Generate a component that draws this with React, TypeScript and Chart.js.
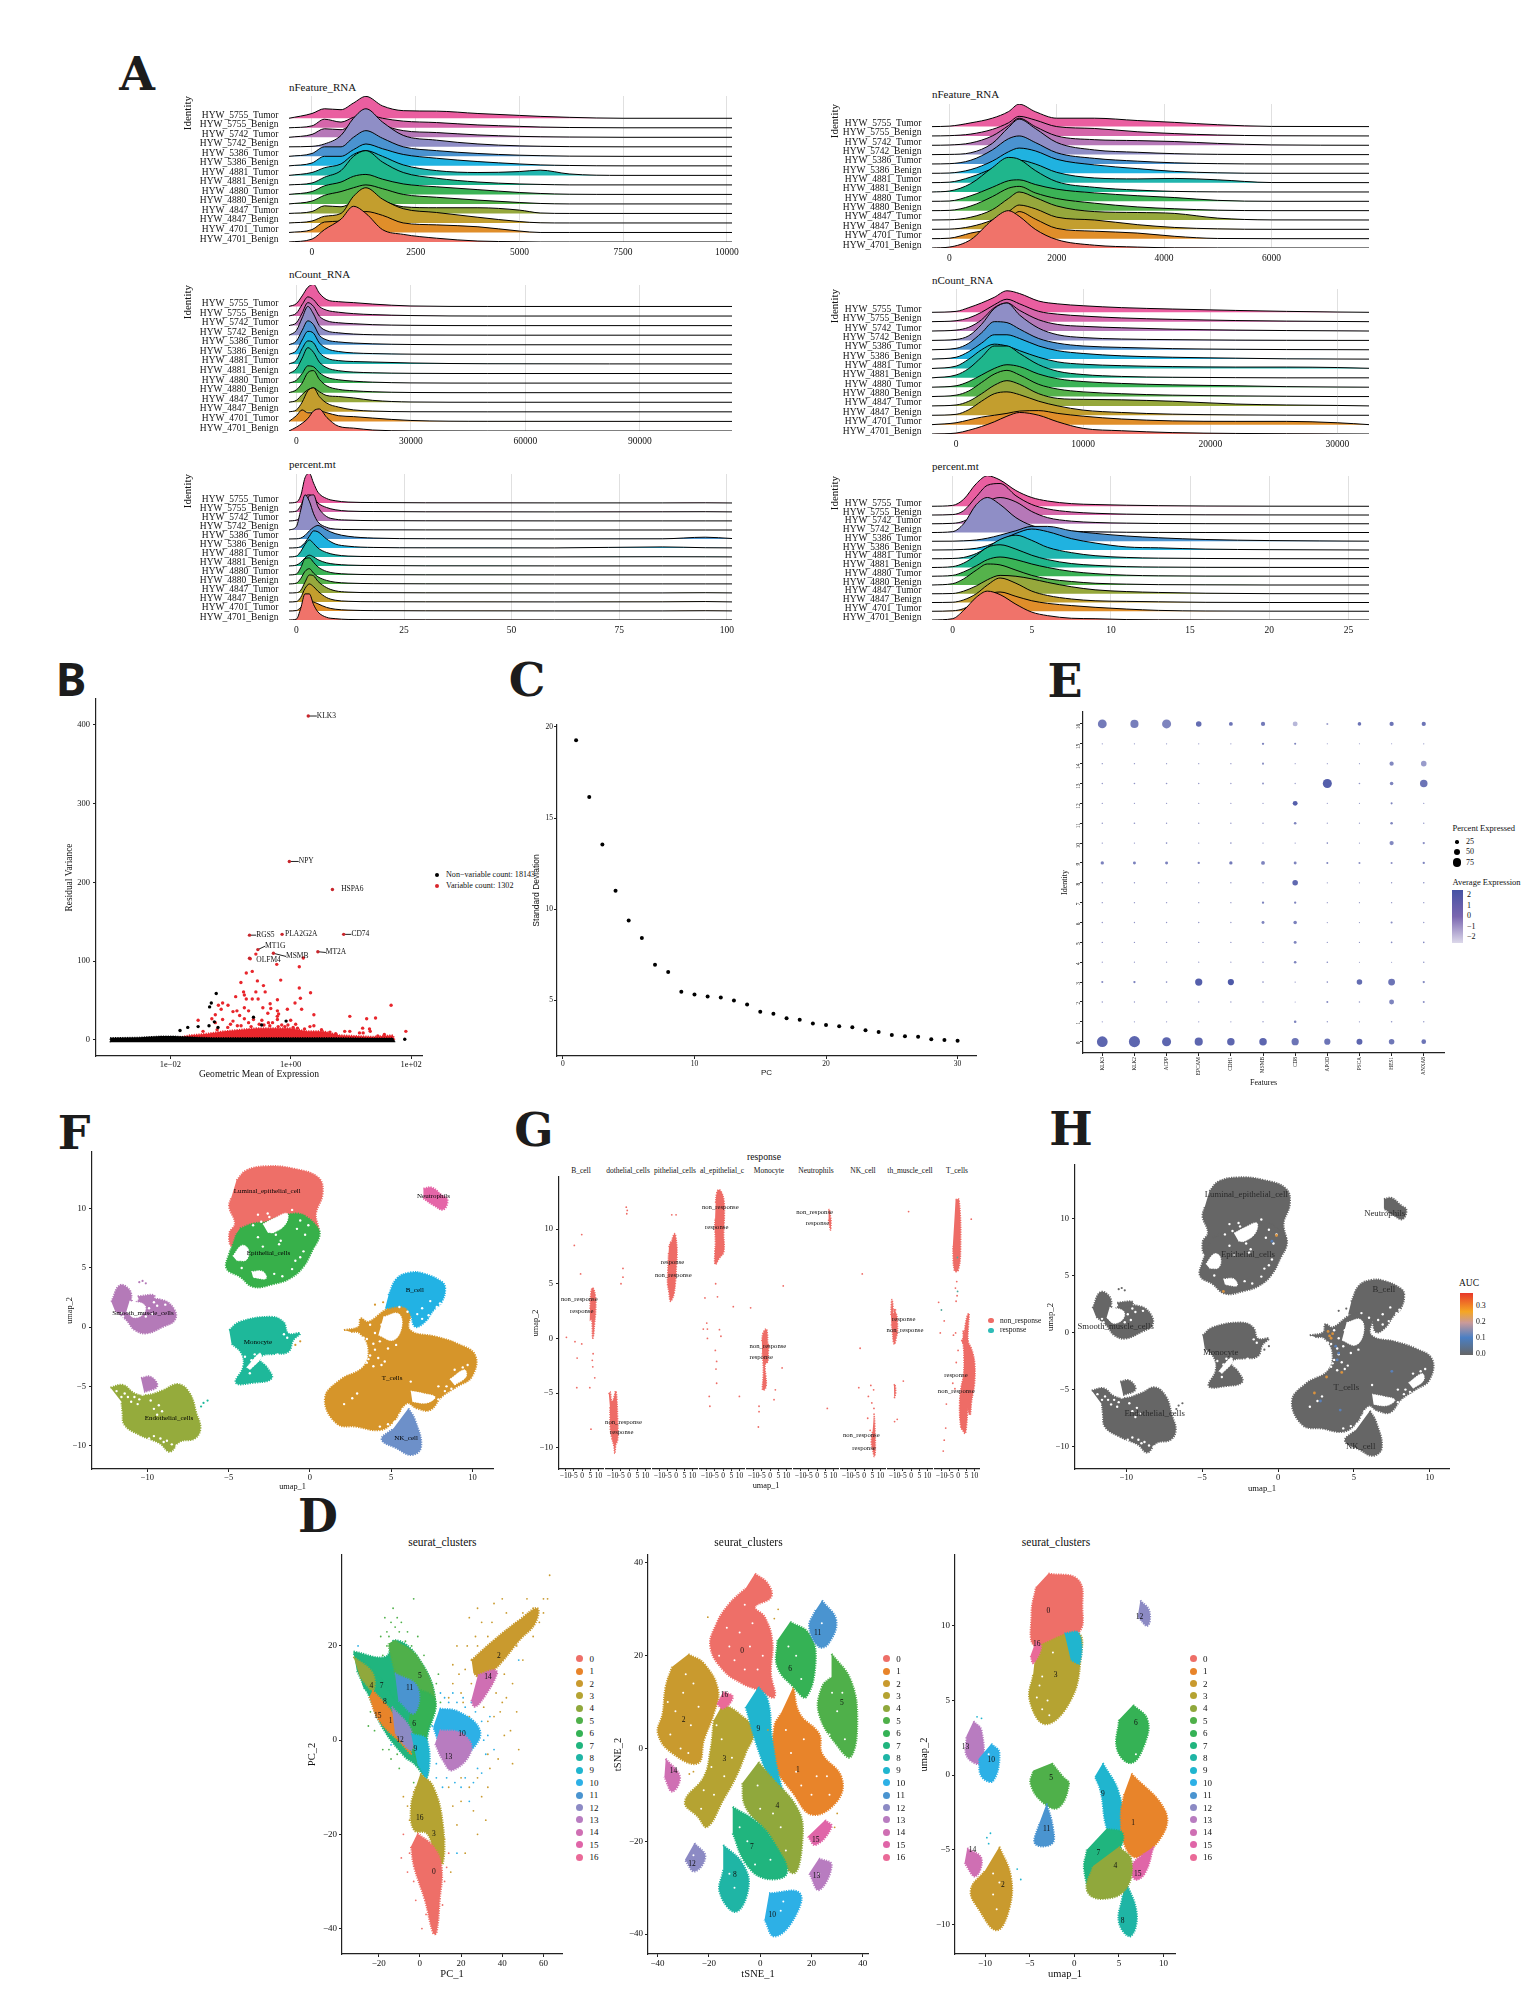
import { useEffect, useRef } from 'react'
import { Chart, registerables } from 'chart.js'

const serif = '"Liberation Serif", serif'

// ---------- panel A: ridge heights, in row units, top row first ----------
const sampleNames = ['HYW_5755_Tumor', 'HYW_5755_Benign', 'HYW_5742_Tumor', 'HYW_5742_Benign', 'HYW_5386_Tumor', 'HYW_5386_Benign', 'HYW_4881_Tumor', 'HYW_4881_Benign', 'HYW_4880_Tumor', 'HYW_4880_Benign', 'HYW_4847_Tumor', 'HYW_4847_Benign', 'HYW_4701_Tumor', 'HYW_4701_Benign']
const sampleColors = ['#ea5ea0', '#d566aa', '#b678b8', '#8f8ec6', '#4a93d0', '#20b2e0', '#20b5ae', '#1fb68c', '#3bb356', '#55b24b', '#96a83c', '#c39e2e', '#e08e2a', '#f0736a']

const featureKnotsA = [-554, 0, 300, 700, 1000, 1300, 1700, 2200, 3000, 4000, 5000, 5500, 6200, 7500, 10125]
const featureRowsA = [
  [0, .5, 1.0, .9, 1.6, 2.3, 1.3, .8, .75, .5, .3, .2, .1, 0, 0],
  [0, .2, .9, .6, 1.1, 1.4, 1.0, .7, .55, .3, .15, .08, .03, 0, 0],
  [0, .3, .9, .8, 1.5, 2.2, 1.3, .7, .5, .25, .1, .06, .03, 0, 0],
  [0, .05, .3, 1.2, 3, 4, 2.6, 1.2, .7, .3, .1, .06, .02, 0, 0],
  [0, .3, 1.0, 1.0, 2, 2.7, 1.9, 1, .6, .3, .12, .07, .02, 0, 0],
  [0, .3, 1.0, 1.0, 1.7, 2.3, 1.8, 1.2, .8, .45, .2, .1, .04, 0, 0],
  [0, .3, .8, 1.2, 2.2, 2.6, 2, 1.1, .5, .3, .4, .55, .15, 0, 0],
  [0, .2, .8, 1.5, 3, 3.6, 2.4, 1.3, .7, .3, .1, .05, 0, 0, 0],
  [0, .3, .9, 1.3, 1.9, 2.1, 1.6, 1.1, .8, .5, .2, .1, .02, 0, 0],
  [0, .3, .9, 1.3, 1.7, 2, 1.6, 1.0, .7, .4, .15, .05, 0, 0, 0],
  [0, .2, .8, .7, 1.2, 1.6, 1.3, .7, .6, .6, .35, .05, 0, 0, 0],
  [0, .2, .7, 1.0, 2.8, 3.7, 2.5, 1.5, 1.1, .6, .15, .02, 0, 0, 0],
  [0, .3, 1.1, 1.2, 1.8, 2.2, 1.8, 1.0, .8, .6, .15, 0, 0, 0, 0],
  [0, .3, 1.3, 2.4, 3.75, 3, 1.3, .8, .4, .1, .03, 0, 0, 0, 0],
]

const countKnotsA = [-1939, 0, 1500, 3000, 4500, 6000, 8000, 11000, 15000, 20000, 30000, 50000, 114175]
const countRowsA = [
  [0, .3, 1.1, 2.0, 2.3, 1.4, .7, .5, .4, .25, .05, 0, 0],
  [0, .3, 1.2, 2, 1.7, 1.0, .6, .4, .25, .15, .05, 0, 0],
  [0, .3, 1.3, 2.4, 2, 1, .5, .3, .2, .1, .03, 0, 0],
  [0, .5, 1.8, 3, 2.2, 1, .45, .25, .12, .05, .02, 0, 0],
  [0, .4, 1.5, 2.5, 2.1, 1, .5, .3, .18, .1, .03, 0, 0],
  [0, .4, 1.5, 2.4, 2.2, 1.2, .6, .3, .15, .08, .02, 0, 0],
  [0, .4, 1.6, 2.4, 2.2, 1.2, .6, .35, .25, .2, .1, .02, 0],
  [0, .5, 1.6, 2.7, 2.2, 1.2, .6, .3, .15, .08, .02, 0, 0],
  [0, .3, 1.0, 1.8, 1.7, 1.1, .6, .35, .2, .1, .02, 0, 0],
  [0, .3, 1, 2.1, 2.3, 1.4, .7, .35, .2, .1, .02, 0, 0],
  [0, .2, .8, 1.3, 1.5, 1.1, .7, .6, .45, .2, .03, 0, 0],
  [0, .2, 1, 2.2, 2.5, 1.6, .9, .5, .2, .08, .01, 0, 0],
  [0, .6, 1.2, .9, .9, 1.1, .9, .6, .5, .35, .1, .01, 0],
  [0, .4, .8, 1.3, 2.1, 2.3, 1.4, .5, .3, .1, .01, 0, 0],
]

const mitoKnotsA = [-1.72, 0, 1, 2, 3, 4, 5, 7, 9, 12, 18, 30, 60, 85, 95, 101.2]
const mitoRowsA = [
  [0, .1, .8, 2.8, 3.3, 2.2, 1.2, .5, .25, .1, .05, .02, .01, .01, .02, 0],
  [0, .1, .7, 1.7, 1.9, 1.6, 1, .5, .25, .1, .05, .02, .01, .02, .03, .01],
  [0, .1, .5, 1.5, 2.8, 2.9, 1.6, .5, .2, .1, .04, .02, .01, .01, .01, .01],
  [0, .4, 2.2, 3.9, 3.2, 1.8, .9, .3, .1, .05, .02, .01, 0, 0, 0, 0],
  [0, .02, .1, .4, .9, 1.3, 1.5, 1.0, .6, .3, .1, .03, .01, .02, .2, .05],
  [0, .03, .15, .6, 1.3, 1.9, 1.8, 1, .45, .2, .06, .02, .01, .12, .03, .01],
  [0, .1, .6, 1.4, 1.9, 1.5, 1, .5, .25, .1, .05, .02, .01, .03, .02, .01],
  [0, .1, .4, .9, 1.2, 1, .7, .35, .2, .1, .05, .02, .01, .01, .01, .01],
  [0, .1, .8, 1.8, 1.9, 1.4, .9, .4, .2, .1, .04, .02, .01, .01, .01, .01],
  [0, .1, .6, 1.4, 1.7, 1.2, .8, .4, .2, .1, .04, .02, .01, .01, .01, .01],
  [0, .03, .3, 1.2, 2, 1.9, 1.3, .6, .25, .1, .04, .02, .01, .01, .03, .01],
  [0, .05, .5, 1.5, 2, 1.7, 1.2, .5, .2, .08, .03, .02, .01, .02, .05, .01],
  [0, .05, .4, .9, 1.1, 1, .8, .4, .2, .1, .04, .02, .01, .01, .03, .01],
  [0, .1, 1.3, 2.9, 2.9, 1.7, .9, .3, .15, .06, .03, .02, .01, .01, .01, .01],
]

const featureKnotsB = [-324, 0, 400, 800, 1100, 1300, 1600, 2000, 2700, 3500, 4200, 5000, 6000, 7819]
const featureRowsB = [
  [0, .05, .4, .9, 1.6, 2.4, 1.6, .9, .9, .65, .45, .2, .02, 0],
  [0, .03, .2, .7, 1.4, 2.1, 1.7, 1, .8, .45, .25, .1, .02, 0],
  [0, .03, .25, 1, 2.1, 2.9, 2, 1, .6, .5, .4, .2, .04, 0],
  [0, .02, .2, 1.2, 2.9, 3.8, 2.8, 1.3, .5, .25, .1, .03, 0, 0],
  [0, .03, .4, 1.5, 2.7, 3, 2.3, 1.2, .6, .3, .12, .03, 0, 0],
  [0, .03, .4, 1.3, 2.3, 2.7, 2.4, 1.5, .9, .5, .2, .05, 0, 0],
  [0, .05, .6, 1.5, 2.2, 2.4, 2, 1.1, .5, .4, .45, .3, .01, 0],
  [0, .1, .9, 2.6, 3.7, 3.5, 2.3, 1.1, .5, .2, .06, .01, 0, 0],
  [0, .03, .6, 1.5, 2.2, 2.3, 1.8, 1.3, .9, .6, .4, .1, 0, 0],
  [0, .03, .5, 1.5, 2.4, 2.6, 1.9, 1.3, .8, .4, .2, .05, 0, 0],
  [0, .02, .3, 1.1, 2.3, 3, 2.4, 1.5, .9, .8, .7, .2, .01, 0],
  [0, .02, .3, 1, 1.9, 2.6, 2.2, 1.3, 1.0, .5, .2, .05, 0, 0],
  [0, .05, .6, 1.1, 2, 2.9, 2.1, 1.1, .8, .6, .25, .02, 0, 0],
  [0, .1, .9, 3, 4, 3.4, 2, .9, .3, .1, .02, .01, 0, 0],
]

const countKnotsB = [-1896, 0, 1000, 2000, 3000, 4000, 5000, 6500, 8000, 10000, 13000, 17000, 22000, 26000, 30000, 32480]
const countRowsB = [
  [0, .1, .5, 1, 1.6, 2.3, 2, 1.2, .9, .7, .5, .35, .2, .1, .03, 0],
  [0, .1, .4, 1, 1.8, 2.4, 1.9, 1.1, .8, .6, .4, .25, .12, .06, .02, 0],
  [0, .1, .4, 1.2, 2.5, 3, 2.2, 1.2, .7, .5, .35, .2, .1, .05, .02, 0],
  [0, .1, .5, 1.7, 3.4, 4, 2.7, 1.3, .6, .3, .15, .08, .03, .01, 0, 0],
  [0, .15, .7, 1.8, 3, 2.9, 2.2, 1.2, .7, .4, .25, .12, .05, .02, .01, 0],
  [0, .2, .8, 1.7, 2.6, 2.6, 2.2, 1.4, .9, .6, .35, .2, .1, .03, .01, 0],
  [0, .25, 1, 2, 2.6, 2.4, 1.9, 1.2, .7, .45, .3, .2, .15, .15, .1, .02],
  [0, .3, 1, 2.2, 3.4, 3.4, 2.6, 1.4, .7, .35, .15, .06, .02, 0, 0, 0],
  [0, .15, .6, 1.3, 2, 2.4, 2.2, 1.4, .9, .6, .4, .25, .15, .06, .02, 0],
  [0, .15, .6, 1.5, 2.4, 2.8, 2.3, 1.3, .8, .5, .3, .15, .07, .03, 0, 0],
  [0, .1, .5, 1.3, 2.2, 2.7, 2.3, 1.3, .8, .7, .65, .5, .2, .1, .05, 0],
  [0, .1, .6, 1.5, 2.3, 2.5, 2.2, 1.5, 1, .55, .3, .12, .04, .01, 0, 0],
  [0, .2, .5, .8, 1, 1.2, 1.45, 1.5, 1.2, .9, .6, .4, .35, .35, .2, 0],
  [0, .1, .4, .8, 1.3, 1.9, 2.3, 2, 1.3, .6, .35, .15, .06, .03, .01, 0],
]

const mitoKnotsB = [-1.3, 0, .7, 1.5, 2.2, 3, 4, 5, 6, 7.5, 9, 11, 13, 16, 20, 26.3]
const mitoRowsB = [
  [0, .1, .8, 2.6, 3.5, 3, 1.8, 1, .6, .3, .2, .12, .07, .03, .01, 0],
  [0, .05, .5, 2.1, 3.4, 3.6, 2.2, 1.2, .7, .35, .2, .1, .05, .02, .01, 0],
  [0, .05, .3, 1.2, 2.5, 3, 2.5, 1.4, .7, .3, .15, .07, .03, .01, 0, 0],
  [0, .1, 1, 3.2, 4, 3.2, 1.7, .8, .4, .15, .08, .03, .01, 0, 0, 0],
  [0, .01, .05, .15, .35, .7, 1.2, 1.7, 1.7, 1.2, .9, .6, .4, .2, .08, .01],
  [0, .02, .07, .2, .5, 1.1, 1.9, 2.4, 2.1, 1.3, .8, .35, .25, .1, .04, 0],
  [0, .03, .15, .6, 1.3, 2.2, 2.7, 2.1, 1.3, .7, .35, .15, .07, .03, .01, 0],
  [0, .1, .5, 1.4, 2.3, 2.6, 2.1, 1.4, .9, .45, .25, .1, .05, .02, .01, 0],
  [0, .1, .5, 1.2, 1.9, 2.2, 1.9, 1.4, 1, .55, .3, .12, .05, .02, .01, 0],
  [0, .15, .7, 1.7, 2.4, 2.3, 1.7, 1.1, .7, .4, .2, .1, .04, .02, 0, 0],
  [0, .03, .3, .9, 1.6, 2.1, 2, 1.7, 1.3, .8, .45, .25, .15, .06, .01, 0],
  [0, .03, .3, 1, 2, 2.8, 2.2, 1.3, .8, .4, .2, .13, .08, .02, 0, 0],
  [0, .05, .3, 1.1, 1.9, 2.2, 1.7, 1.2, .9, .65, .45, .25, .1, .03, .01, 0],
  [0, .15, 1.1, 2.6, 3.3, 2.9, 1.8, .9, .5, .2, .15, .05, .02, .01, 0, 0],
]

// ---------- panel B ----------
const redScatter = [[.264, 109], [.213, 103], [.587, 96], [1.39, 93], [1.62, 104], [.183, 85], [.23, 87], [.149, 73], [.28, 75], [.683, 76], [.353, 69], [1.39, 66], [.377, 61], [2.14, 60], [.165, 61], [.264, 61], [.122, 55], [.17, 57], [.183, 52], [.23, 52], [.288, 52], [.602, 51], [1.45, 53], [.074, 47], [.063, 44], [.091, 44], [.456, 46], [1.18, 47], [46.6, 44], [.07, 39], [.17, 41], [.345, 41], [.467, 40], [.881, 39], [1.52, 39], [.11, 36], [.128, 37], [.2, 37], [.602, 37], [.417, 34], [.056, 32], [.142, 31], [2.43, 32], [9.6, 30], [18.3, 27], [25.7, 28], [.049, 27], [.029, 25], [.074, 26], [.11, 24], [.17, 27], [.241, 26], [.332, 25], [.602, 26], [1, 25], [.056, 22], [.2, 22], [.427, 22], [.71, 19], [1.21, 20], [15.7, 15], [2.09, 17], [2.43, 18], [3.25, 13], [20.4, 14], [7.9, 11], [9.6, 11], [82, 11], [13.9, 9], [.6, 30], [.63, 33], [.1, 20], [.13, 18], [.3, 20], [.5, 22], [.8, 17], [1.1, 16], [16, 9], [21, 11], [.09, 16], [.15, 18], [.22, 17], [.36, 19], [.45, 18], [.62, 17], [.9, 19], [1.3, 15], [1.7, 14], [.06, 13], [.035, 11], [4.5, 10], [5.6, 8], [28, 5], [36, 7]]
const blackScatter = [[.058, 59], [.048, 47], [.045, 42], [.029, 17], [.044, 18], [.241, 29], [.84, 24], [.054, 23], [.062, 16], [.0195, 16], [.0145, 12], [78.6, 1], [.33, 19]]
const redBand = [[.0115, 0], [.0115, 2], [.0217, 6], [.041, 8], [.077, 11], [.1455, 13], [.274, 15], [.517, 15], [.975, 15], [1.84, 11], [3.47, 11], [6.5, 6], [12.3, 5], [23.2, 4], [50, 6], [53, 0]]
const blackBand = [[.001, -3], [.001, 3], [.003, 3.5], [.0069, 5], [.0115, 5], [.02, 4], [.05, 3], [.2, 3], [1, 3], [5, 3], [20, 2.5], [50, 2.5], [55, -3]]
const geneNames = ['KLK3', 'NPY', 'HSPA6', 'CD74', 'PLA2G2A', 'RGS5', 'MT1G', 'MSMB', 'MT2A', 'OLFM4']
const genePoints = [[1.96, 411], [.95, 226.5], [4.94, 191], [7.6, 134], [.72, 134], [.207, 133], [.285, 114.7], [.517, 110], [2.83, 112], [.207, 103.7]]
const geneLabelAt = [[2.72, 411], [1.36, 226.5], [6.9, 191], [10.2, 134], [.806, 134], [.268, 133], [.376, 119], [.837, 106], [3.84, 111], [.268, 101]]

// ---------- panel C ----------
const pcStdDev = [19.26, 16.15, 13.55, 11.02, 9.39, 8.42, 6.96, 6.57, 5.48, 5.33, 5.22, 5.16, 5.0, 4.78, 4.38, 4.27, 4.03, 3.94, 3.74, 3.66, 3.59, 3.54, 3.37, 3.28, 3.11, 3.04, 3.02, 2.88, 2.84, 2.79]

// ---------- panel E, identities from 16 down to 0 ----------
const dotFeatures = ['KLK3', 'KLK2', 'ACPP', 'EPCAM', 'CDH1', 'MSMB', 'CD8', 'APOD', 'PSCA', 'HES1', 'ANXA8']
const percentExpressed = [
  [60, 55, 62, 35, 22, 25, 30, 8, 20, 25, 25],
  [2, 2, 2, 2, 2, 10, 8, 1, 1, 1, 2],
  [3, 3, 2, 2, 3, 8, 1, 1, 1, 25, 35],
  [3, 5, 5, 3, 3, 6, 2, 62, 5, 20, 50],
  [3, 3, 3, 3, 3, 3, 30, 2, 2, 8, 3],
  [3, 5, 3, 3, 3, 3, 12, 2, 2, 12, 3],
  [3, 3, 5, 3, 5, 3, 2, 5, 2, 25, 10],
  [18, 15, 15, 10, 18, 22, 15, 8, 8, 8, 10],
  [3, 3, 3, 3, 3, 3, 35, 2, 2, 3, 5],
  [3, 3, 3, 3, 3, 10, 10, 2, 2, 3, 3],
  [3, 3, 3, 3, 3, 15, 20, 2, 2, 8, 3],
  [3, 3, 3, 3, 3, 3, 15, 2, 2, 5, 5],
  [2, 2, 2, 2, 2, 4, 12, 5, 1, 1, 4],
  [8, 10, 5, 48, 40, 5, 3, 5, 35, 45, 10],
  [3, 3, 3, 3, 3, 3, 1, 8, 4, 30, 8],
  [2, 2, 2, 2, 2, 3, 12, 3, 2, 4, 3],
  [75, 78, 62, 55, 50, 50, 48, 40, 38, 35, 28],
]
const averageExpression = [
  [.8, .7, .5, 1.2, 1, .8, -1, -.3, 1, 1, 1],
  [0, 0, 0, 0, 0, .5, .5, 0, 0, 0, 0],
  [0, 0, 0, 0, 0, .3, 0, 0, 0, .4, -.2],
  [0, 0, 0, 0, 0, .3, 0, 1.6, 0, .5, 1],
  [0, 0, 0, 0, 0, 0, 1.6, 0, 0, .5, 0],
  [0, 0, 0, 0, 0, 0, .5, 0, 0, .5, 0],
  [0, 0, .3, 0, 0, 0, 0, .5, 0, .4, .2],
  [.6, .6, .6, .5, .8, .5, .5, .5, .2, .2, .5],
  [0, 0, 0, 0, 0, 0, 1.3, 0, 0, 0, 0],
  [0, 0, 0, 0, 0, .5, .5, 0, 0, 0, 0],
  [0, 0, 0, 0, 0, .5, .6, 0, 0, .3, 0],
  [0, 0, 0, 0, 0, 0, .5, 0, 0, .3, .3],
  [0, 0, 0, 0, 0, 0, .5, .3, 0, 0, 0],
  [.3, .6, .3, 1.6, 1.8, .2, 0, .2, 1.2, 1, .4],
  [0, 0, 0, 0, 0, 0, 0, .3, 0, .5, .2],
  [0, 0, 0, 0, 0, 0, .5, 0, 0, 0, 0],
  [1.4, 1.4, 1.4, 1.4, 1.4, 1.4, 1, 1, 1.4, .9, 1],
]

// ---------- panels F, G, H: cell type outlines in umap coordinates ----------
const luminalShape = [[-4.52, 12.4], [-3.9, 13.25], [-2.67, 13.59], [-1.03, 13.39], [.51, 12.63], [.78, 11.28], [.37, 9.59], [.41, 7.9], [-2.26, 7.34], [-4.72, 6.78], [-4.97, 7.9], [-4.62, 8.75], [-4.97, 10.15], [-4.83, 11]]
const epithelialShape = [[-4.31, 8.33], [-3.49, 8.75], [-2.67, 8.89], [-1.85, 9.31], [-.82, 9.59], [-.21, 9.31], [.51, 8.33], [.57, 7.62], [.21, 6.64], [-.41, 5.09], [-1.23, 4.11], [-2.26, 3.63], [-3.49, 3.4], [-4.31, 4.25], [-5.13, 4.95], [-4.97, 6.22], [-4.76, 6.92], [-4.52, 7.9]]
const neutrophilShape = [[6.98, 11.7], [7.49, 11.79], [8.11, 11.14], [8.46, 10.77], [8.21, 9.93], [7.6, 10.3], [6.98, 10.86]]
const bCellShape = [[4.83, 2.7], [5.34, 4.11], [6.16, 4.61], [6.98, 4.53], [8.11, 3.83], [8.32, 3.26], [8.11, 2.14], [7.6, 1.43], [7.08, .45], [6.47, .03], [6.16, 1.15], [5.75, 1.72], [4.62, 1.58]]
const tCellShape = [[2.09, -.25], [2.98, .03], [3.12, .73], [3.59, .45], [4.62, 1.43], [5.75, 2.14], [6.67, 2.28], [6.26, 1.15], [6.16, -.25], [7.8, -.82], [9.03, -1.38], [10.16, -2.36], [9.96, -4.19], [9.03, -5.04], [8.11, -5.88], [7.39, -7], [6.57, -6.86], [5.95, -6.44], [5.13, -7.99], [4.31, -8.69], [2.87, -8.41], [1.64, -8.13], [.92, -6.02], [1.85, -4.47], [3.29, -3.35], [3.59, -1.8], [3.08, -.53], [2.46, -.39]]
const nkShape = [[6.06, -6.86], [6.47, -7.85], [6.84, -10.1], [6.26, -10.8], [5.34, -10.24], [4.41, -9.48], [5.13, -8.55]]
const monocyteShape = [[-4.97, -.25], [-4.31, .45], [-2.46, .87], [-1.64, .45], [-1.33, -.53], [-.62, -.53], [-1.03, -1.1], [-1.33, -2.08], [-2.26, -2.28], [-2.87, -2.36], [-3.08, -2.78], [-2.67, -3.35], [-2.36, -4.33], [-3.49, -4.7], [-4.56, -4.7], [-4.11, -3.35], [-4.21, -2.22], [-4.83, -1.38]]
const smoothShape = [[-12.22, 2.14], [-11.7, 3.54], [-11.09, 3.12], [-10.88, 2], [-10.47, 2.28], [-9.03, 2.28], [-8.32, 1.43], [-8.32, .59], [-9.03, .03], [-10.06, -.53], [-10.78, -.25], [-11.29, .59], [-12.01, 1.43]]
const smoothTopShape = [[-10.6, 2.6], [-9.6, 2.7], [-9.7, 2.3], [-10.5, 2.2]]
const smoothLowShape = [[-10.4, -4.3], [-9.8, -4.2], [-9.4, -5], [-10.2, -5.5]]
const endothelialShape = [[-12.28, -5.09], [-11.5, -4.89], [-10.78, -5.6], [-10.06, -5.74], [-9.03, -5.32], [-8.11, -4.81], [-7.39, -5.6], [-6.98, -7.29], [-6.74, -8.55], [-7.08, -9.4], [-8.01, -9.68], [-8.62, -10.52], [-9.24, -9.82], [-10.47, -9.11], [-11.4, -8.27], [-11.54, -7.14], [-11.6, -6.3]]
const tEpithelialShape = [[-1.5, 12.7], [.6, 12.7], [1.5, 8.1], [0, 6.2], [-2.2, 6.2], [-3.2, 8.4]]

const cellColors = ['#ee6f68', '#37b04a', '#d6952a', '#22b2e4', '#6d90c9', '#e566a8', '#1eb89a', '#b47ab8', '#b47ab8', '#b47ab8', '#95ab3c']
const cellShapes = [luminalShape, epithelialShape, tCellShape, bCellShape, nkShape, neutrophilShape, monocyteShape, smoothShape, smoothTopShape, smoothLowShape, endothelialShape]

const holeShapes = [
  [[-4.75, 6], [-4.2, 6.9], [-3.8, 6.6], [-3.9, 5.7], [-4.5, 5.6]],
  [[-2.9, 8.7], [-2.2, 9.2], [-1.4, 9.6], [-1.5, 8.7], [-2.2, 8], [-2.6, 8]],
  [[-3.6, 4.7], [-2.9, 4.7], [-2.7, 4.1], [-3.5, 4.2]],
  [[4.52, .87], [5.44, 1.15], [5.65, .03], [5.13, -1.1], [4.21, -.68]],
  [[6.2, -5.4], [7, -5.6], [7.7, -5.9], [7.2, -6.4], [6.3, -6.3]],
  [[8.6, -4.4], [9.5, -3.6], [9.6, -4.2], [8.9, -4.9]],
  [[-3.9, -3.4], [-3.1, -2.2], [-3, -2.6], [-3.7, -3.6]],
  [[-11.1, 2.2], [-10.2, 1.9], [-10.2, 1.2], [-10.8, .8], [-11.3, 1.3]],
]
const holeDots = [[3.5, -3], [3.9, -3.3], [4.4, -3.2], [3.7, -2.4], [4, -1.9], [3.5, -1], [4, -.5], [3.7, .2], [4.4, .2], [6.6, -.3], [2.1, -6.5], [2.6, -6], [2.9, -5.6], [5, -8.5], [4.8, -8.2], [5.2, -8], [7.9, -5], [8.3, -5.4], [8.7, -5.2], [6.2, -4.6], [-11.4, -5.6], [-10.8, -5.9], [-11, -6.3], [-11.2, -5.9], [-10.5, -6.1], [-9.6, -6.9], [-9.3, -6.6], [-9.1, -7.1], [-9.4, -7.4], [-9.6, -9.2], [-9.2, -9.4], [-8.8, -9.6], [-8.5, -9.9], [-9, -9.7], [-.9, 5.6], [-1.1, 4.9], [-.6, 5.9], [-2.1, 7.8], [-1.8, 7.3], [-.1, 8.6], [-.6, 9], [-3.2, 9.5], [-2.6, 9.6], [-1.4, -.9], [-1.6, -.6], [-.9, -1.2], [-3.6, -2.8], [-3.4, -2.3], [6.9, 1.6], [6.6, 1.1], [7.3, 1], [7.8, 1.7], [7.4, 2.2], [-9.9, 1.6], [-9.4, 1.8], [-9.7, 1.1], [-11.6, 1.2],
  [3.6, -2.7], [4.2, -2.6], [4.6, -2.9], [3.9, -1.4], [4.3, -1.2], [3.3, -.9], [4.8, -1.8], [5.3, -1.5], [4.3, -8.4], [5.5, -7.4], [5.7, -6.9], [7.9, -6.1], [8.4, -5], [9.4, -3.4], [9.7, -3.2], [8.9, -3.6], [-3.5, 8.6], [-3, 8.9], [-2.5, 9.3], [-1.1, 9.9], [-.8, 8.3], [-.3, 7.8], [-1.9, 7], [-2.9, 6.8], [-3.2, 7.6], [-4.2, 5], [-3.2, 4.4], [-2.2, 4.5], [-1.7, 4.3], [-.4, 6.4], [-11.9, -5.4], [-11.6, -5.9], [-10.3, -5.7], [-10.6, -6.5], [-9.8, -6.2], [-9.9, -9.4], [-8.2, -10], [-2, -2.3], [-3.7, -3.9], [-4, -2.5], [5.5, 1.7], [6, 1.3], [6.9, .7], [7.7, 1.2], [8, 2], [-11.5, .9], [-10.9, 2.4], [-9.6, 2.1], [-10.1, .9], [-8.9, 1.9]]
const looseDots = [[-10.5, 3.8], [-10.3, 3.9], [-10.1, 3.7], [-6.55, -6.4], [-6.3, -6.2], [-6.7, -6.7], [4, 1.9], [4.5, 2.1], [-.6, -1.2], [-.9, -1.5]]

const cellLabels = ['Luminal_epithelial_cell', 'Epithelial_cells', 'Neutrophils', 'B_cell', 'Smooth_muscle_cells', 'Monocyte', 'T_cells', 'Endothelial_cells', 'NK_cell']
const cellLabelAtF = [[-2.63, 11.48], [-2.55, 6.27], [7.6, 11.08], [6.45, 3.15], [-10.27, 1.21], [-3.2, -1.24], [5.05, -4.28], [-8.67, -7.65], [5.91, -9.34]]
const cellLabelAtH = [[-2.09, 12.06], [-1.98, 6.8], [7.03, 10.45], [6.97, 3.74], [-10.7, .53], [-3.78, -1.81], [4.5, -4.88], [-8.13, -7.15], [5.45, -10]]
const aucWarmDots = [[3.4, -.3], [3.5, -.5], [3.6, -.1], [3.3, .1], [4.2, -3.5], [3.2, -3.9], [2.4, -5.3], [-.1, 8.5], [-3.6, 3.6]]
const aucCoolDots = [[3.8, -1.2], [4, -1.8], [3.9, -2.4], [7.5, -3.4], [4.1, -6.8], [-.4, 8], [2.8, -6]]

// panel G facets
const facetTitles = ['B_cell', 'dothelial_cells', 'pithelial_cells', 'al_epithelial_c', 'Monocyte', 'Neutrophils', 'NK_cell', 'th_muscle_cell', 'T_cells']
const facetLefts = [559, 606, 653, 700, 747, 794, 841, 888, 935]
const facetShapes = [[bCellShape], [endothelialShape], [epithelialShape], [luminalShape], [monocyteShape], [neutrophilShape], [nkShape], [smoothShape, smoothTopShape, smoothLowShape], [tCellShape, tEpithelialShape]]
const facetStray = [
  [[-4.7, 8.5], [-.2, 9.5], [-.9, 5.9], [-9.5, .1], [-4.3, -.3], [-.2, -.5], [-3, -1.8], [6.7, -1.4], [6.2, -2], [6.5, -2.6], [7.7, -3.6], [-3.2, -4.5], [4.7, -4.5], [5.4, -8.3]],
  [[-1.7, 12], [-1.1, 11.7], [-1.4, 11.4], [-3.7, 6.4], [-3.7, 5.6], [-4.9, 5]],
  [[-2.6, 11.3], [0, 11.3]],
  [[-4.5, 5], [-11, 3.7], [-3.4, 3.8], [6.2, 2.9], [-9.9, 1.4], [-12, .85], [-9.5, .85], [-2.2, .8], [-9.5, 0], [-1.3, .2], [-4.7, -1.1], [-3.9, -2.1], [-4.3, -2.8], [-3.9, -4.1], [-8.4, -5.3], [9.9, -5.3], [-8, -6.2]],
  [[-11.8, 2.8], [8, 4.8], [7.3, -2.7], [3.2, -4.7], [2.4, -5.6], [-6.7, -6.2], [-6.7, -6.7], [-7.1, -8.1]],
  [[6.2, -6.4]],
  [[-1.1, 5.9], [-2.4, -.9], [-3.2, -4.5], [4.1, -4.3], [5.8, -4.7], [2.6, -5.3], [4.7, -5.9], [6, -6.4], [2.2, -7.3], [3.7, -8.4]],
  [[-1.5, 11.6], [-4.7, -3.9], [-8.4, -7.4], [-10, -7.6]],
  [[-11.8, 3.3], [-8.4, 1.6], [-10.8, .5], [-2.8, .3], [-1.5, .5], [0, -1.1], [-1.1, -2.2], [-3.2, -4.1], [-1.9, -4.6], [-7.1, -6], [-7.5, -8.2], [-8.4, -9.3], [-9, -10.3], [8, 10.9], [-.8, 5.2], [-1.6, 4.6], [-.6, 3.9], [-1.2, 3.4]],
]
const facetGreen = [[], [], [], [], [], [], [], [], [[-10.1, 2.6], [-.4, 7.4], [-.3, 4.3]]]
const facetLabelText = [['non_response', 'response'], ['non_response', 'response'], ['response', 'non_response'], ['non_response', 'response'], ['non_response', 'response'], ['non_response', 'response'], ['non_response', 'response'], ['response', 'non_response'], ['response', 'non_response']]
const facetLabelAt = [[[-1.7, 3.59], [-.2, 2.5]], [[-3.4, -7.64], [-4.5, -8.55]], [[-2.15, 6.97], [-1.7, 5.78]], [[-1.7, 11.99], [-3.9, 10.17]], [[-1.3, -.7], [-5.4, -1.7]], [[-1.5, 11.54], [.2, 10.53]], [[-1.7, -8.83], [0, -10]], [[-4.5, 1.77], [-3.7, .76]], [[-1.3, -3.35], [-1.1, -4.81]]]

// ---------- panel D ----------
const clusterIds = ['0', '1', '2', '3', '4', '5', '6', '7', '8', '9', '10', '11', '12', '13', '14', '15', '16']
const clusterColors = ['#ee6f68', '#e8842a', '#c99a2e', '#b5a332', '#90a83c', '#4fb04a', '#35b255', '#20b57e', '#1fb5a5', '#20b5cf', '#2db0e6', '#4a94d0', '#8c8ac4', '#b87cc0', '#cf6fb3', '#e065a8', '#ea6a98']

const pcaClusters = [7, 3, 0, 2, 14, 5, 6, 11, 7, 4, 1, 12, 9, 10, 13]
const pcaShapes = [
  [[-32.2, 18.8], [-16.7, 17.7], [-12.1, 21.2], [-1.2, 17.7], [7.4, 8.5], [3.4, 0], [3.4, -7.8], [-2.8, -5], [-7.4, -3.5], [-18.3, 2.8], [-24.5, 9.2], [-30.7, 14.9]],
  [[.3, -7.1], [6.5, -9.9], [11.1, -17.7], [11.1, -26.2], [7.4, -24.1], [3.4, -19.8], [-2.8, -19.1], [-4.3, -14.2], [-1.9, -9.9]],
  [[-1.2, -19.8], [6.5, -22.6], [10.5, -26.9], [9.6, -34], [8, -41], [6.5, -41], [2.5, -34], [-2.8, -26.9], [-4.3, -22.6]],
  [[25.1, 17], [35.9, 21.2], [48.3, 25.5], [57, 28], [56, 24.8], [48.3, 21.2], [40.6, 17], [35.9, 14.9], [29.7, 13.2], [26, 14.2]],
  [[28.2, 13.8], [35.9, 14.9], [37.5, 14.2], [31.3, 9.2], [26.6, 7.1], [25, 8.5]],
  [[-12.1, 21.2], [-1.2, 17.7], [7.4, 8.5], [1.9, 4.95], [-7.4, 8.5], [-13.6, 17], [-15.2, 20.5]],
  [[-2.8, 11.3], [7.4, 8.5], [3.4, 1.4], [.3, -5], [-2.8, -2.8], [-5.9, 2.8]],
  [[-12.1, 14.2], [-1.2, 11.3], [-2.8, 5.7], [-10.5, 8.5]],
  [[-32.2, 18.4], [-19.8, 13.4], [-12.1, 8.5], [-4.3, 1.4], [-9, 0], [-19.8, 7.8], [-27.6, 11.3]],
  [[-32.2, 17.7], [-22.9, 14.2], [-22.9, 10.6], [-29.1, 13.4]],
  [[-22.9, 10.6], [-12.1, 5], [-4.3, -2.8], [-9, -.7], [-19.8, 4.2], [-24.5, 9.2]],
  [[-13.6, 7.1], [-4.3, 2.1], [-4.3, -2.1], [-12.1, 1.4]],
  [[-4.3, 1.4], [3.4, 0], [3.4, -7.8], [-1.2, -5]],
  [[9.6, 6.7], [18.9, 6], [29.1, 2.1], [25, -2.1], [15.8, -4.2], [9.6, -.7], [6.5, 2.8]],
  [[9.6, 2.1], [20.4, 1.4], [25, -2.1], [15.8, -6.4], [11.1, -4.2], [7.4, -.7]],
]
const pcaGoldDots = [[40, 30], [63, 35], [55, 28], [60, 30], [50, 27], [47, 20], [27, 22], [30, 18], [22, 15], [35, 25], [42, 27], [25, 12], [18, 20], [30, 10], [45, 12], [36, 5], [44, 2], [48, -2], [20, -13], [28, -20], [32, -17], [33, -10], [28, -8], [24, -10], [15, -28], [22, -24], [16, 16], [40, 8], [38, -4], [50, 17], [33, 4], [29, 13], [25, 17], [37, 10], [41, 14], [20, 10], [16, 12], [33, -3], [27, 3], [60, 27], [58, 25], [52, 30], [45, 24], [24, 26], [28, 28], [33, 22], [38, 19], [44, 21], [23, 20], [19, 14], [21, 8], [35, 12], [39, 6], [42, 9], [47, 6], [30, 25], [36, 29], [48, 23], [53, 25], [26, 9], [31, 7], [24, 5], [14, 9], [34, -6], [30, -12], [26, -15], [18, -18], [16, -14], [12, -21], [20, -8], [45, -5], [41, 1], [55, 22], [62, 30], [35, 18], [28, 20], [-3, -11], [-6, -14], [-8, -12], [14, -10], [-5, -17], [18, -3]]
const pcaGreenDots = [[-17, 26], [-12, 24], [-15, 22], [-3, 30], [-18, 18], [-13, 28], [-16, 23], [-10, 23], [-22, 17], [-7, 21], [-25, 3], [-18, -2], [-14, -4], [-10, -6], [-3, -9], [-14, 25], [-11, 26], [-9, 25], [-16, 20], [-6, 23], [-4, 20], [-19, 22], [-13, 21], [-20, 12], [-24, 6], [-22, 2], [-15, -2], [-11, -3], [8, 12], [10, 8], [9, 14], [-1, 22], [2, 18], [-8, 19]]
const pcaBlueDots = [[-30, 20], [-12, 18], [-8, 15], [-18, 15], [12, 9], [25, 8], [30, 4], [28, -6], [8, -8], [20, -10], [2, -12], [-14, -1], [48, 17], [18, -24], [-24, 14], [33, 1], [14, 8], [18, 8], [22, 7], [27, 6], [31, 0], [32, -3], [30, -7], [26, -9], [22, -8], [17, -9], [13, -8], [8, -5], [6, 3], [5, 6], [10, 10], [16, 10], [21, 9], [11, -10], [6, -11], [2, -8], [34, 5], [36, -2], [24, -13]]
const pcaRedDots = [[-3, -30], [2, -28], [12, -30], [14, -24], [-5, -24], [-8, -20], [3, -37], [-6, -28], [-2, -34], [11, -35], [13, -27], [-9, -25], [1, -40]]
const pcaLabels = [[6.8, -28], [-14.2, 4.1], [38.4, 17.8], [6.8, -20], [-23.5, 11.5], [0, 13.6], [-2.8, 3.4], [-18.6, 11.5], [-17, 8.1], [-2.2, -1.8], [20.4, 1.3], [-5, 11], [-9.6, 0], [13.9, -3.5], [33.1, 13.4], [-20.4, 5.1], [0, -16.6]]

const tsneClusters = [0, 2, 3, 1, 5, 6, 11, 9, 4, 7, 8, 10, 12, 13, 14, 15, 16]
const tsneShapes = [
  [[-2, 37.7], [3, 35.5], [4.2, 32.6], [-2, 30.5], [1.7, 28.4], [4.7, 23.2], [4.2, 16.1], [5.5, 11.1], [-.7, 12.6], [-7, 14], [-14.4, 16.9], [-19.4, 21.9], [-17, 26.9], [-12, 31.2], [-5.7, 34.5]],
  [[-28, 20.3], [-21.9, 18.3], [-16.4, 12.6], [-18.1, 7.5], [-21.9, 1.8], [-24.3, -3.2], [-34.3, -1], [-39.8, 3.2], [-38, 7.5], [-36.8, 13.3], [-34.3, 17.6]],
  [[-14.4, 9.7], [-8.2, 7.5], [-2.5, 3.9], [-5.7, -1.1], [-9.4, -6.1], [-14.4, -11.1], [-20.6, -16.9], [-24.3, -14.7], [-29.3, -11.5], [-21.9, -6.1], [-19.4, -.4], [-18.1, 6.1]],
  [[12.9, 13.3], [15.4, 7.5], [22.9, 3.2], [24.1, -1.1], [31.6, -6.1], [30.3, -11.1], [20.4, -14.3], [12.9, -9.7], [5.5, -3.2], [5.5, 4.7], [8, 7.5]],
  [[27.8, 20.4], [35.3, 14.7], [37.8, 6.1], [35.3, -1.8], [30.3, .4], [22.9, 7.5], [24.1, 13.3], [27.8, 15.4]],
  [[11.7, 27.3], [19.1, 24.7], [21.6, 19], [17.9, 11.1], [12.9, 13.3], [6.7, 17.6], [6.7, 23.3]],
  [[24.1, 31.9], [29.6, 27.6], [26.6, 22.6], [22.9, 21.9], [19.1, 26.2], [21.6, 29.8]],
  [[-.7, 13.3], [3, 10.4], [4.7, 1.8], [8, -7.5], [11.7, -13.3], [5.5, -9], [-.7, -.4], [-5.7, 9]],
  [[-.7, -2.9], [4.2, -6.1], [14.2, -12.6], [16.6, -18.3], [12.9, -26.9], [3, -18.3], [-5.7, -12.6], [-7, -7.5]],
  [[-10.7, -12.6], [-.7, -16.1], [5.5, -20.4], [10.4, -26.9], [1.7, -28], [-5.7, -24.7], [-10.7, -18.3]],
  [[-14.4, -20.8], [-7, -24.7], [-4.5, -29.8], [-9.4, -35.2], [-15.7, -31.2], [-14.4, -26.2]],
  [[3.5, -31.2], [15.4, -31.2], [12.9, -36.9], [5.5, -40.5], [1.7, -36.9]],
  [[-25.6, -20.4], [-21.4, -23.3], [-25.6, -26.5], [-29.3, -24]],
  [[22.9, -23.7], [27.8, -25.1], [22.9, -30.5], [19.1, -26.9]],
  [[-36.8, -2.2], [-31.3, -6.1], [-34.3, -9.3], [-37.3, -6.1]],
  [[25.3, -15.4], [27.8, -16.9], [21.6, -20.8], [18.6, -19]],
  [[-14.4, 12.2], [-10.7, 11.1], [-14.4, 8.6], [-16.9, 9.7]],
]
const tsneHoles = [[-33, 8], [-30, 12], [-35, 3], [-27, 5], [-26, 14], [-31, 0], [-8, 25], [-4, 22], [-10, 19], [-3, 27], [-1, 17], [-12, 22], [-19, -4], [-15, 2], [-11, -2], [-17, 5], [-22, -9], [12, -1], [17, 2], [22, -6], [16, -8], [27, -10], [30, 8], [33, 2], [28, 12], [14, 20], [-1, -8], [5, -14], [10, -22], [-5, -20], [-2, -25], [-10, -30], [8, -35], [-29, 16], [-36, 10], [-24, 9], [-28, -1], [-6, 31], [-13, 26], [-16, 20], [1, 20], [-6, 17], [-14, -6], [-18, -10], [-23, -13], [10, 4], [14, -5], [20, -10], [26, -6], [32, 12], [27, 3], [11, 22], [16, 15], [24, 27], [0, -13], [8, -17], [4, -24], [-8, -17], [-12, -27], [9, -33], [-26, -23], [23, -27]]
const tsneStray = [[-20.4, 28.3], [5.5, 28], [7, 30], [-27.6, -5.5], [-26, -5], [30, -14], [29, -17], [3, 4]]
const tsneLabels = [[-7, 21], [14.7, -4.7], [-29.8, 6.2], [-13.9, -2.2], [6.7, -12.4], [31.8, 9.7], [11.7, 17.2], [-3.2, -21.2], [-9.9, -27.3], [-.7, 4.2], [4.7, -36], [22.4, 24.9], [-26.6, -24.9], [21.9, -27.6], [-33.8, -4.8], [21.6, -19.7], [-13.9, 11.5]]

const umapClusters = [0, 3, 9, 16, 12, 13, 10, 5, 11, 2, 14, 6, 9, 1, 15, 8, 7, 4]
const umapShapes = [
  [[-2.9, 13.5], [.4, 13.1], [.9, 11.3], [.4, 9.5], [-4.3, 8.6], [-4.8, 10.8], [-4.3, 12.6]],
  [[-4.3, 8.6], [.4, 9.5], [.7, 7.7], [-.4, 5], [-3.2, 3.4], [-5, 5], [-4.6, 6.8]],
  [[-1.1, 9.5], [.5, 9.5], [.6, 7.5], [-.4, 7.7]],
  [[-4.3, 9], [-3.7, 8.6], [-4.6, 7.5], [-4.9, 8]],
  [[7.4, 11.7], [8.4, 11], [8.2, 10], [7.1, 10.6]],
  [[-11.3, 3.6], [-10.4, 3], [-10.4, .8], [-12, 1.2], [-12.1, 2.6]],
  [[-9.3, 2.1], [-8.4, 1.5], [-9.1, -.4], [-10.4, -.1], [-10.7, 1.1]],
  [[-2.5, .8], [-1.3, -.1], [-.6, -.6], [-1.8, -2.2], [-3.6, -1.8], [-4.9, -.6], [-4.6, .3]],
  [[-3.1, -1.9], [-2.4, -3.5], [-2.5, -4.6], [-4.4, -4.6], [-3.9, -3.2]],
  [[-8.4, -4.8], [-7.1, -6.8], [-7.3, -9], [-8.7, -10.4], [-10.7, -9], [-11.6, -7.7], [-10, -6.4]],
  [[-12, -4.9], [-10.4, -5.6], [-11.1, -6.8], [-12.3, -5.9]],
  [[6.6, 4.7], [8.2, 3.7], [7.9, 2.1], [6.4, .8], [4.8, 1.7], [5, 3.7]],
  [[3.2, .8], [5, -1.2], [5.4, -3.7], [3.9, -3.9], [2.9, -1], [2.3, -.1]],
  [[6.4, .1], [10.1, -2.3], [10, -3.9], [7.1, -5.5], [5.7, -4.8], [5.2, -2.8], [5.6, -1.2]],
  [[8.9, -4.8], [7.9, -6.6], [6.8, -7], [6.4, -6.1], [7.9, -5.2]],
  [[5.7, -7], [7, -9.3], [6.3, -10.8], [5, -9.9], [5.4, -8.1]],
  [[3.6, -3.6], [5.4, -3.9], [4.9, -5.2], [2.1, -7.9], [1.1, -6.4], [1.4, -5]],
  [[5, -4.8], [6.4, -5.7], [5.7, -7.7], [2.9, -8.3], [1.4, -7.7], [2.1, -6.1]],
]
const umapHoles = [[-3.9, 6], [-4.2, 5.2], [-3.6, 4.4], [-3, 5], [-2.8, 4], [-3.6, 6.6], [-9.1, -6.6], [-8.4, -7.2], [-9.1, -8], [-8.7, -9], [-9.6, 1.4], [-2.4, 8.2], [6.9, 1.4], [5.4, .4]]
const umapStray = [[-9.8, -4.2], [-9.6, -4.6], [-9.4, -3.9], [-6.4, -6.3], [-6, -7], [-10.9, 3.9], [-10.4, 3.8]]
const umapLabels = [[-2.9, 11], [6.6, -3.2], [-8, -7.4], [-2.1, 6.7], [4.6, -6.1], [-2.6, -.2], [6.9, 3.5], [2.7, -5.2], [5.4, -9.8], [3.2, -1.3], [-9.3, 1], [-3.1, -3.6], [7.3, 10.6], [-12.2, 1.9], [-11.4, -5], [7.1, -6.6], [-4.2, 8.8]]

// ---------- helpers ----------
const toXY = (pts: number[][]) => pts.map(([x, y]) => ({ x, y }))
const minusSign = (v: number) => String(v).replace('-', '−')

const textMarks = {
  id: 'textMarks',
  afterDatasetsDraw(chart: any, _args: any, opts: any) {
    if (!opts.items) return
    const { ctx, scales } = chart
    ctx.save()
    ctx.font = opts.font
    ctx.fillStyle = opts.color || '#000'
    ctx.textAlign = opts.align || 'center'
    ctx.textBaseline = 'middle'
    for (const it of opts.items) ctx.fillText(it.text, scales.x.getPixelForValue(it.x), scales.y.getPixelForValue(it.y))
    ctx.restore()
  },
}

Chart.register(...registerables, textMarks)

const shapeSet = (pts: number[][], color: string, edge = 2) => ({
  data: toXY(pts), showLine: true, fill: 'shape', backgroundColor: color, borderColor: color,
  borderWidth: edge, borderDash: [1.2, 1.2], tension: 0.42, pointRadius: 0,
})
const dotSet = (pts: number[][], color: string, r: number) => ({
  data: toXY(pts), showLine: false, backgroundColor: color, pointRadius: r, pointBorderWidth: 0,
})

const axis = (min: number, max: number, step: number, size: number, extra: any = {}) => ({
  type: 'linear', bounds: 'data', min, max,
  // ticks on multiples of the step, whatever the range limits are
  afterBuildTicks: (s: any) => {
    const t = []
    for (let v = Math.ceil(min / step) * step; v <= max; v += step) t.push({ value: v })
    s.ticks = t
  },
  ticks: { autoSkip: false, maxRotation: 0, color: '#111', padding: 1, font: { family: serif, size }, callback: minusSign },
  grid: { drawOnChartArea: false, tickLength: 3, color: '#222', lineWidth: 1 },
  border: { color: '#222', width: 1.2 },
  ...extra,
})
const axisTitle = (text: string, size: number, extra: any = {}) => ({ display: true, text, color: '#111', padding: 0, font: { family: serif, size }, ...extra })

function options(m: any, x: any, y: any, marks: any = {}) {
  return {
    responsive: false,
    animation: false,
    layout: { padding: { top: m.t, right: m.r, left: 0, bottom: 0 } },
    plugins: { legend: { display: false }, tooltip: { enabled: false }, textMarks: marks },
    scales: {
      x: { ...x, afterFit: (s: any) => { s.height = m.b } },
      y: { ...y, afterFit: (s: any) => { s.width = m.l } },
    },
  }
}

function Plot({ area, m, build }: any) {
  const ref = useRef<HTMLCanvasElement>(null)
  const w = area.r - area.l + m.l + m.r
  const h = area.b - area.t + m.t + m.b
  useEffect(() => {
    const chart = new Chart(ref.current as any, build())
    return () => chart.destroy()
  }, [])
  return <canvas ref={ref} width={w} height={h} style={{ position: 'absolute', left: area.l - m.l, top: area.t - m.t, width: w, height: h }} />
}

function Txt({ x, y, size, children, anchor = 'center', family = serif, weight = 'normal', rotate = 0, color = '#111' }: any) {
  const tx = anchor === 'center' ? '-50%' : '0'
  return (
    <span style={{ position: 'absolute', left: x, top: y, fontFamily: family, fontSize: size, fontWeight: weight, color, lineHeight: 1, whiteSpace: 'nowrap', transform: `translate(${tx},-50%) rotate(${rotate}deg)` }}>
      {children}
    </span>
  )
}

function Dot({ x, y, d, color }: any) {
  return <span style={{ position: 'absolute', left: x - d / 2, top: y - d / 2, width: d, height: d, borderRadius: '50%', background: color }} />
}

// ---------- chart builders ----------
function ridgeConfig(knots: number[], rows: number[][], step: number, yMax: number, m: any) {
  const datasets = rows.map((h, i) => {
    const base = rows.length - 1 - i
    return {
      data: knots.map((x, j) => ({ x, y: base + h[j] })),
      showLine: true, pointRadius: 0, borderColor: '#000', borderWidth: 1,
      cubicInterpolationMode: 'monotone', backgroundColor: sampleColors[i], fill: { value: base },
    }
  }).reverse()
  const x = axis(knots[0], knots[knots.length - 1], step, 9.5, {
    grid: { color: '#e0e0e0', lineWidth: 1, drawTicks: false },
    border: { display: false },
  })
  x.ticks.padding = 5
  const y = axis(0, yMax, 1, 9.5, {
    grid: { display: false, drawTicks: false },
    border: { display: false },
    afterBuildTicks: (s: any) => { s.ticks = sampleNames.map((_, i) => ({ value: i })) },
    title: axisTitle('Identity', 11, { align: 'end' }),
  })
  y.ticks.padding = 10.5
  y.ticks.labelOffset = -3
  y.ticks.callback = (v: number) => sampleNames[13 - v]
  return { type: 'scatter', data: { datasets }, options: options(m, x, y) }
}

function hvgConfig(m: any) {
  const connectors = genePoints.map((p, i) => ({
    data: toXY([p, geneLabelAt[i]]), showLine: true, pointRadius: 0, borderColor: '#222', borderWidth: 1,
  })).filter((_, i) => !['HSPA6', 'PLA2G2A', 'OLFM4'].includes(geneNames[i]))
  const datasets = [
    dotSet(redScatter, '#e8262c', 1.7),
    { ...shapeSet(redBand, '#e8262c', 2), tension: 0 },
    { ...shapeSet(blackBand, '#000', 1), tension: 0 },
    dotSet(blackScatter, '#000', 1.7),
    ...connectors,
    dotSet(genePoints, '#c8262c', 1.7),
  ].reverse()
  const x = axis(5.83e-4, 152, 1, 8.5, {
    type: 'logarithmic',
    afterBuildTicks: (s: any) => { s.ticks = [{ value: .01 }, { value: 1 }, { value: 100 }] },
    title: axisTitle('Geometric Mean of Expression', 9.6),
  })
  x.ticks.callback = (v: number) => ({ 0.01: '1e−02', 1: '1e+00', 100: '1e+02' } as any)[v]
  const y = axis(-20.3, 432.6, 100, 8.5, { title: axisTitle('Residual Variance', 9.4) })
  y.ticks.padding = 3
  const marks = {
    font: `7.5px ${serif}`, color: '#111', align: 'left',
    items: geneNames.map((text, i) => ({ text, x: geneLabelAt[i][0], y: geneLabelAt[i][1] })),
  }
  return { type: 'scatter', data: { datasets }, options: options(m, x, y, marks) }
}

function elbowConfig(m: any) {
  const datasets = [{ data: pcStdDev.map((y, i) => ({ x: i + 1, y })), backgroundColor: '#000', pointRadius: 2, pointBorderWidth: 0 }]
  const x = axis(-.45, 31.4, 10, 7.5, { title: axisTitle('PC', 8.5, { font: { family: 'Liberation Sans', size: 8 } }) })
  const y = axis(1.96, 20.1, 5, 7.5, { title: axisTitle('Standard Deviation', 8.5, { font: { family: 'Liberation Sans', size: 8.5 } }) })
  return { type: 'scatter', data: { datasets }, options: options(m, x, y) }
}

const dotRadius = (pct: number) => .5 + pct * .065
function expressionColor(v: number) {
  const t = (v + 2) / 4
  const mix = (a: number, b: number) => Math.round(a + (b - a) * t)
  return `rgb(${mix(220, 70)},${mix(216, 82)},${mix(234, 164)})`
}

function dotPlotConfig(m: any) {
  const points: any[] = []
  const colors: string[] = []
  percentExpressed.forEach((row, r) => row.forEach((pct, c) => {
    points.push({ x: c, y: 16 - r, r: dotRadius(pct) })
    colors.push(expressionColor(averageExpression[r][c]))
  }))
  const x = axis(-.6, 10.63, 1, 5.3, { title: axisTitle('Features', 8) })
  x.ticks.callback = (v: number) => dotFeatures[v]
  x.ticks.minRotation = 90
  x.ticks.maxRotation = 90
  const y = axis(-.57, 16.6, 1, 5.3, { title: axisTitle('Identity', 8) })
  y.ticks.minRotation = 90
  y.ticks.maxRotation = 90
  return { type: 'bubble', data: { datasets: [{ data: points, backgroundColor: colors, borderWidth: 0 }] }, options: options(m, x, y) }
}

function cellMapConfig(m: any) {
  const datasets = [
    ...cellShapes.map((s, i) => shapeSet(s, cellColors[i])),
    ...holeShapes.map(s => shapeSet(s, '#fff', 1)),
    dotSet(holeDots, '#fff', 1.2),
    dotSet(looseDots.slice(0, 3), cellColors[7], 1.1),
    dotSet(looseDots.slice(3, 6), cellColors[6], 1.1),
    dotSet(looseDots.slice(6), cellColors[2], 1.1),
  ].reverse()
  const x = axis(-13.41, 11.26, 5, 8.5, { title: axisTitle('umap_1', 8.3) })
  const y = axis(-11.98, 14.79, 5, 8.5, { title: axisTitle('umap_2', 8.3) })
  y.ticks.padding = 3
  const marks = { font: `7px ${serif}`, color: '#000', items: cellLabels.map((text, i) => ({ text, x: cellLabelAtF[i][0], y: cellLabelAtF[i][1] })) }
  return { type: 'scatter', data: { datasets }, options: options(m, x, y, marks) }
}

function aucMapConfig(m: any) {
  const grey = '#666666'
  const datasets = [
    ...cellShapes.map(s => shapeSet(s, grey)),
    ...holeShapes.map(s => shapeSet(s, '#fff', 1)),
    dotSet(holeDots, '#fff', 1.2),
    dotSet(looseDots, grey, 1.1),
    dotSet(aucWarmDots, '#d9923e', 1.4),
    dotSet(aucCoolDots, '#5a80b8', 1.4),
  ].reverse()
  const x = axis(-13.38, 11.27, 5, 8.5, { title: axisTitle('umap_1', 8.7) })
  const y = axis(-11.96, 14.68, 5, 8.5, { title: axisTitle('umap_2', 8.7) })
  y.ticks.padding = 3
  const marks = { font: `8.7px ${serif}`, color: '#2a2a2a', items: cellLabels.map((text, i) => ({ text, x: cellLabelAtH[i][0], y: cellLabelAtH[i][1] })) }
  return { type: 'scatter', data: { datasets }, options: options(m, x, y, marks) }
}

function facetConfig(i: number, m: any) {
  const red = '#ee6c66'
  const datasets = [
    ...facetShapes[i].map(s => shapeSet(s, red, 1.6)),
    dotSet(facetStray[i], red, .9),
    dotSet(facetGreen[i], '#4fa79a', .9),
  ].reverse()
  const x = axis(-14, 12.7, 5, 7.5, { grid: { drawOnChartArea: false, tickLength: 2, color: '#222' } })
  const first = i === 0
  const y = axis(-11.94, 14.76, 5, 8.5, first
    ? { title: axisTitle('umap_2', 8.3) }
    : { grid: { display: false }, border: { display: false } })
  y.ticks.display = first
  y.ticks.padding = 3
  const marks = { font: `6.7px ${serif}`, color: '#111', items: facetLabelText[i].map((text, j) => ({ text, x: facetLabelAt[i][j][0], y: facetLabelAt[i][j][1] })) }
  return { type: 'scatter', data: { datasets }, options: options(m, x, y, marks) }
}

function clusterConfig(shapes: number[][][], ids: number[], labels: number[][], extra: any[], ranges: number[], xTitle: string, yTitle: string, step: number, yStep: number, edge: number, m: any) {
  const datasets = [...extra.filter(e => e.under), ...shapes.map((s, i) => shapeSet(s, clusterColors[ids[i]], edge)), ...extra.filter(e => !e.under)].reverse()
  const x = axis(ranges[0], ranges[1], step, 9, { title: axisTitle(xTitle, 10.5) })
  const y = axis(ranges[2], ranges[3], yStep, 9, { title: axisTitle(yTitle, 10.5) })
  y.ticks.padding = 2
  const marks = { font: `7.5px ${serif}`, color: '#111', items: clusterIds.map((text, i) => ({ text, x: labels[i][0], y: labels[i][1] })) }
  return { type: 'scatter', data: { datasets }, options: options(m, x, y, marks) }
}

const under = (set: any) => ({ ...set, under: true })

function ClusterLegend({ x }: any) {
  return (
    <>
      {clusterIds.map((id, i) => (
        <span key={id}>
          <Dot x={x} y={1658.7 + 12.4 * i} d={7} color={clusterColors[i]} />
          <Txt x={x + 10} y={1658.7 + 12.4 * i} size={9} anchor="left">{id}</Txt>
        </span>
      ))}
    </>
  )
}

const ridgeTitles = [[289, 86.5, 'nFeature_RNA'], [289, 274.3, 'nCount_RNA'], [289, 463.6, 'percent.mt'], [932, 94.4, 'nFeature_RNA'], [932, 280.2, 'nCount_RNA'], [932, 466.4, 'percent.mt']]
const panelLetters = [['A', 137, 74], ['C', 527, 680], ['E', 1065, 681], ['F', 74, 1133], ['G', 534, 1130], ['H', 1071, 1129], ['D', 318, 1516]]

export default function App() {
  // top margin has to hold half a tick label plus the tick padding, or the layout eats into the plot
  const mA = { l: 107, r: 12, t: 18, b: 22 }
  const mB = { l: 103, r: 12, t: 18, b: 22 }
  const mHvg = { l: 32, r: 8, t: 10, b: 24 }
  const mElbow = { l: 25, r: 8, t: 10, b: 22 }
  const mDots = { l: 23, r: 6, t: 10, b: 35 }
  const mCells = { l: 27, r: 8, t: 10, b: 23 }
  const mAuc = { l: 30, r: 8, t: 10, b: 25 }
  const mPca = { l: 36, r: 8, t: 10, b: 27 }
  const mTsne = { l: 36, r: 8, t: 10, b: 27 }
  const mUmap = { l: 37, r: 8, t: 10, b: 27 }
  return (
    <div style={{ position: 'absolute', left: 0, top: 0, width: 1539, height: 1992, background: '#fff', overflow: 'hidden' }}>
      {panelLetters.map(([t, x, y]: any) => <Txt key={t} x={x} y={y} size={46} weight="bold" family='"DejaVu Serif", serif' color="#1c1c1c">{t}</Txt>)}
      <Txt x={71} y={678} size={46} weight="bold" family='"Noto Sans", sans-serif' color="#1c1c1c">B</Txt>
      {ridgeTitles.map(([x, y, t]: any) => <Txt key={`${x}${y}`} x={x} y={y} size={11} anchor="left">{t}</Txt>)}

      <Plot area={{ l: 289, r: 732, t: 96, b: 242 }} m={mA} build={() => ridgeConfig(featureKnotsA, featureRowsA, 2500, 15.34, mA)} />
      <Plot area={{ l: 289, r: 732, t: 285, b: 431 }} m={mA} build={() => ridgeConfig(countKnotsA, countRowsA, 30000, 15.24, mA)} />
      <Plot area={{ l: 289, r: 732, t: 474, b: 620 }} m={mA} build={() => ridgeConfig(mitoKnotsA, mitoRowsA, 25, 16.22, mA)} />
      <Plot area={{ l: 932, r: 1369, t: 104, b: 248 }} m={mB} build={() => ridgeConfig(featureKnotsB, featureRowsB, 2000, 15.42, mB)} />
      <Plot area={{ l: 932, r: 1369, t: 289, b: 434 }} m={mB} build={() => ridgeConfig(countKnotsB, countRowsB, 10000, 15.49, mB)} />
      <Plot area={{ l: 932, r: 1369, t: 476, b: 620 }} m={mB} build={() => ridgeConfig(mitoKnotsB, mitoRowsB, 5, 16.46, mB)} />

      <Plot area={{ l: 96, r: 422, t: 699, b: 1056 }} m={mHvg} build={() => hvgConfig(mHvg)} />
      <Dot x={436.7} y={875} d={4} color="#000" />
      <Dot x={436.7} y={885.7} d={4} color="#d8262c" />
      <Txt x={446} y={875} size={8.1} anchor="left">Non−variable count: 18143</Txt>
      <Txt x={446} y={885.7} size={8.1} anchor="left">Variable count: 1302</Txt>

      <Plot area={{ l: 557, r: 976, t: 725, b: 1056 }} m={mElbow} build={() => elbowConfig(mElbow)} />

      <Plot area={{ l: 1083, r: 1444, t: 712, b: 1053 }} m={mDots} build={() => dotPlotConfig(mDots)} />
      <Txt x={1452.5} y={828} size={8.5} anchor="left">Percent Expressed</Txt>
      {[[25, 842], [50, 852], [75, 862.7]].map(([p, y]) => (
        <span key={p}>
          <Dot x={1457} y={y} d={dotRadius(p) * 1.6} color="#000" />
          <Txt x={1466} y={y} size={8} anchor="left">{p}</Txt>
        </span>
      ))}
      <Txt x={1452.5} y={882} size={8.5} anchor="left">Average Expression</Txt>
      <div style={{ position: 'absolute', left: 1452, top: 890, width: 11, height: 53, background: 'linear-gradient(#4652a4, #7a66b0, #dcd8ea)' }} />
      {[['2', 895], ['1', 905.7], ['0', 916], ['−1', 927.3], ['−2', 937.3]].map(([t, y]: any) => <Txt key={t} x={1467} y={y} size={8} anchor="left">{t}</Txt>)}

      <Plot area={{ l: 92, r: 493, t: 1152, b: 1469 }} m={mCells} build={() => cellMapConfig(mCells)} />

      <Txt x={764} y={1157} size={9.7}>response</Txt>
      {facetTitles.map((t, i) => <Txt key={t} x={facetLefts[i] + 22} y={1171} size={7.5}>{t}</Txt>)}
      {facetLefts.map((l, i) => {
        const m = { l: i === 0 ? 28 : 24, r: 24, t: 10, b: 14 }
        return <Plot key={l} area={{ l, r: l + 44, t: 1177, b: 1469 }} m={m} build={() => facetConfig(i, m)} />
      })}
      <Txt x={766} y={1486} size={8.3}>umap_1</Txt>
      <Dot x={991} y={1320.7} d={5.5} color="#ee6c66" />
      <Dot x={991} y={1330.3} d={5.5} color="#2ebcb8" />
      <Txt x={1000} y={1320.7} size={7.5} anchor="left">non_response</Txt>
      <Txt x={1000} y={1330.3} size={7.5} anchor="left">response</Txt>

      <Plot area={{ l: 1075, r: 1449, t: 1165, b: 1469 }} m={mAuc} build={() => aucMapConfig(mAuc)} />
      <Txt x={1469} y={1284} size={9.5}>AUC</Txt>
      <div style={{ position: 'absolute', left: 1460, top: 1293, width: 13, height: 62, background: 'linear-gradient(#e8382a 0%, #f5a623 30%, #c99a9a 48%, #4a7fc4 72%, #666 100%)' }} />
      {[['0.3', 1306], ['0.2', 1322], ['0.1', 1338], ['0.0', 1354]].map(([t, y]: any) => <Txt key={t} x={1476} y={y} size={7.8} anchor="left">{t}</Txt>)}

      <Txt x={442.4} y={1543} size={11.5}>seurat_clusters</Txt>
      <Txt x={748.5} y={1543} size={11.5}>seurat_clusters</Txt>
      <Txt x={1056} y={1543} size={11.5}>seurat_clusters</Txt>

      <Plot area={{ l: 342, r: 562, t: 1555, b: 1954 }} m={mPca} build={() => clusterConfig(pcaShapes, pcaClusters, pcaLabels, [
        under(dotSet(pcaGoldDots, clusterColors[2], .9)), under(dotSet(pcaGreenDots, clusterColors[5], .9)), under(dotSet(pcaBlueDots, clusterColors[10], .9)), under(dotSet(pcaRedDots, clusterColors[0], .9)),
      ], [-37.8, 69, -45.4, 39.3], 'PC_1', 'PC_2', 20, 20, 2.2, mPca)} />
      <ClusterLegend x={579.5} />

      <Plot area={{ l: 648, r: 868, t: 1555, b: 1954 }} m={mTsne} build={() => clusterConfig(tsneShapes, tsneClusters, tsneLabels, [
        dotSet(tsneHoles, '#fff', 1), dotSet(tsneStray, clusterColors[2], .9),
      ], [-43.7, 42, -44.3, 41.7], 'tSNE_1', 'tSNE_2', 20, 20, 2.2, mTsne)} />
      <ClusterLegend x={886.3} />

      <Plot area={{ l: 955, r: 1175, t: 1555, b: 1954 }} m={mUmap} build={() => clusterConfig(umapShapes, umapClusters, umapLabels, [
        dotSet(umapHoles, '#fff', 1), dotSet(umapStray, clusterColors[9], .9),
      ], [-13.37, 11.28, -11.99, 14.74], 'umap_1', 'umap_2', 5, 5, 2, mUmap)} />
      <ClusterLegend x={1193} />
    </div>
  )
}
